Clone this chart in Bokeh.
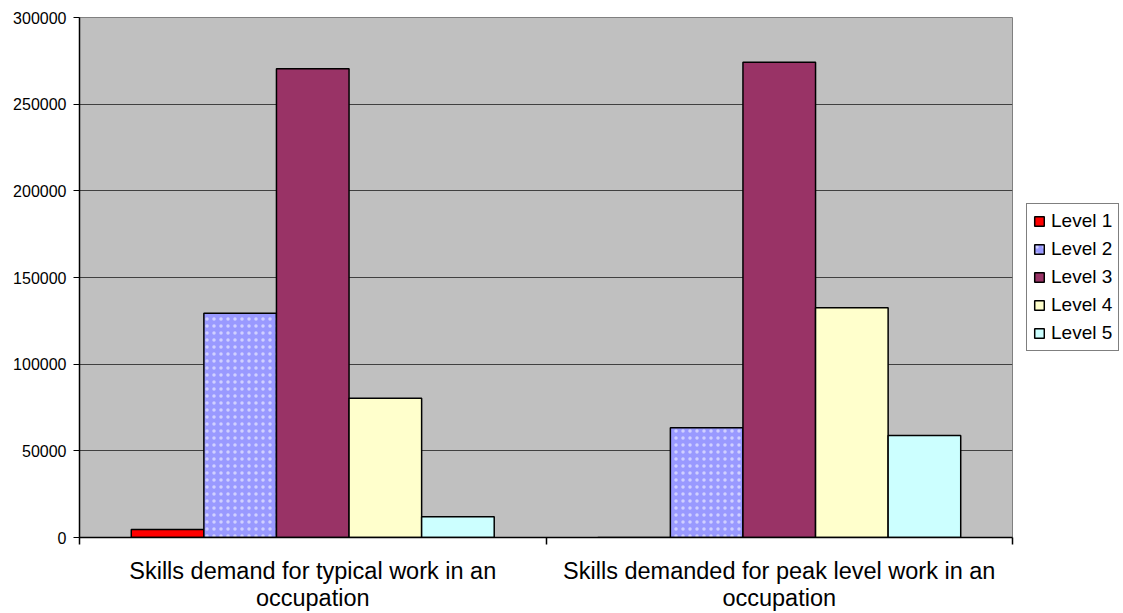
from bokeh.plotting import figure
from bokeh.models import (ColumnDataSource, Range1d, FixedTicker,
                          Legend, LegendItem, SingleIntervalTicker, BasicTickFormatter)
from bokeh.transform import dodge
from bokeh.embed import file_html
from bokeh.resources import INLINE

# ---- data ----
categories = ["Skills demand for typical work in an\noccupation",
              "Skills demanded for peak level work in an\noccupation"]
levels = ["Level 1", "Level 2", "Level 3", "Level 4", "Level 5"]
level_1 = [4600, 0]
level_2 = [129400, 63300]
level_3 = [270400, 274200]
level_4 = [80400, 132500]
level_5 = [11900, 58800]
colors = ["#FF0000", "#9999FF", "#993366", "#FFFFCC", "#CCFFFF"]

# category slots on a numeric axis (slot i is centred at i + 0.5)
pos = [i + 0.5 for i in range(len(categories))]
bounds = [float(i) for i in range(len(categories) + 1)]

source = ColumnDataSource(data=dict(x=pos, l1=level_1, l2=level_2,
                                    l3=level_3, l4=level_4, l5=level_5))
cols = ["l1", "l2", "l3", "l4", "l5"]

FONT = "Liberation Sans"

p = figure(x_range=Range1d(0, len(categories)), y_range=Range1d(0, 300000),
           frame_width=933, frame_height=520,
           min_border_left=79, min_border_right=0, min_border_top=17, min_border_bottom=76,
           output_backend="svg", toolbar_location=None,
           background_fill_color="#C0C0C0", border_fill_color="white",
           outline_line_color="#808080", outline_line_width=1)

bw = 0.1556
renderers = []
for i, (c, col) in enumerate(zip(cols, colors)):
    kw = {}
    if i == 1:
        kw = dict(hatch_pattern="dot", hatch_color="#D0D0FF", hatch_scale=7, hatch_weight=1)
    r = p.vbar(x=dodge("x", (i - 2) * bw), top=c, width=bw, bottom=0,
               source=source, fill_color=col, line_color="black", line_width=1.5, **kw)
    renderers.append(r)

# y axis
p.yaxis.ticker = SingleIntervalTicker(interval=50000, num_minor_ticks=0)
p.yaxis.formatter = BasicTickFormatter(use_scientific=False)
p.yaxis.major_label_text_font = FONT
p.yaxis.major_label_text_font_size = "16px"
p.yaxis.major_label_text_color = "black"
p.yaxis.axis_line_color = "black"
p.yaxis.axis_line_width = 1.5
p.yaxis.major_tick_line_color = "black"
p.yaxis.major_tick_in = 0
p.yaxis.major_tick_out = 6
p.yaxis.minor_tick_line_color = None
p.yaxis.major_label_standoff = 7
p.ygrid.grid_line_color = "#404040"
p.ygrid.grid_line_width = 1
p.xgrid.visible = False

# x axis: ticks at category boundaries, labels at centres
xaxis = p.xaxis[0]
xaxis.ticker = FixedTicker(ticks=pos, minor_ticks=bounds)
xaxis.major_label_overrides = {c: l for c, l in zip(pos, categories)}
xaxis.major_label_text_font = FONT
xaxis.major_label_text_font_size = "23.5px"
xaxis.major_label_text_line_height = 1.05
xaxis.major_label_text_color = "black"
xaxis.major_label_standoff = 13
xaxis.major_tick_in = 0
xaxis.major_tick_out = 0
xaxis.minor_tick_in = 0
xaxis.minor_tick_out = 7
xaxis.minor_tick_line_color = "black"
xaxis.minor_tick_line_width = 1.5
xaxis.axis_line_color = "black"
xaxis.axis_line_width = 1.5

legend = Legend(items=[LegendItem(label=lv, renderers=[r]) for lv, r in zip(levels, renderers)],
                location="left")
legend.label_text_font = FONT
legend.label_text_font_size = "19px"
legend.label_text_color = "black"
legend.glyph_width = 12
legend.glyph_height = 12
legend.label_standoff = 6
legend.label_height = 22
legend.spacing = 6
legend.padding = 6
legend.margin = 14
legend.border_line_color = "black"
legend.border_line_width = 1
legend.background_fill_color = "white"
legend.background_fill_alpha = 1
p.add_layout(legend, "right")

open("out.html", "w").write(file_html(p, INLINE))
